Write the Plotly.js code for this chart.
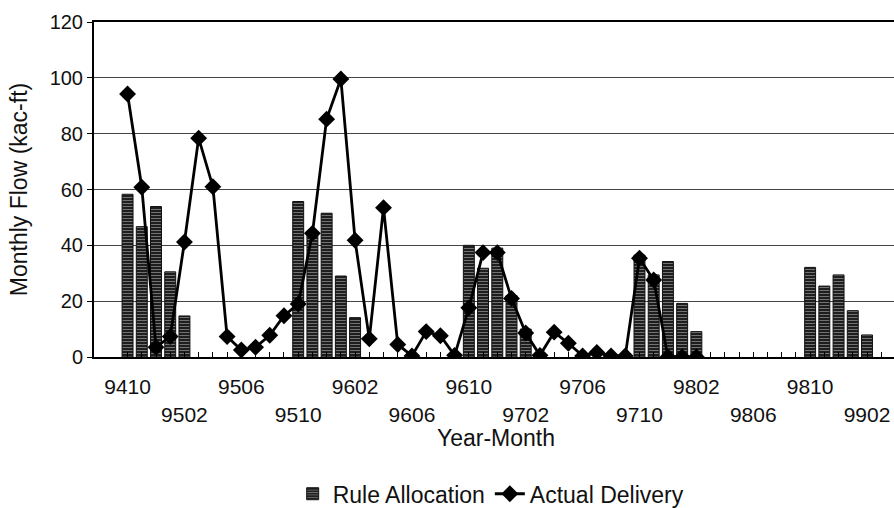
<!DOCTYPE html>
<html>
<head>
<meta charset="utf-8">
<script src="https://cdn.plot.ly/plotly-3.0.1.min.js"></script>
<style>
html, body { margin:0; padding:0; overflow:hidden; background:#fff; }
#chart { width:900px; height:508px; }
</style>
</head>
<body>
<div id="chart"></div>
<script>
// Year-Month categories (YYMM)
var categories = ['9410','9411','9412','9501','9502','9503','9504','9505','9506','9507','9508','9509',
  '9510','9511','9512','9601','9602','9603','9604','9605','9606','9607','9608','9609',
  '9610','9611','9612','9701','9702','9703','9704','9705','9706','9707','9708','9709',
  '9710','9711','9712','9801','9802','9803','9804','9805','9806','9807','9808','9809',
  '9810','9811','9812','9901','9902','9903'];

// Rule Allocation (kac-ft), bars
var ruleAllocation = [58.3,46.7,53.9,30.5,14.7,null,null,null,null,null,null,null,
  55.7,44.0,51.5,29.0,14.1,null,null,null,null,null,null,null,
  40.0,31.8,39.0,22.0,10.0,null,null,null,null,null,null,null,
  36.5,29.4,34.2,19.2,9.1,null,null,null,null,null,null,null,
  32.1,25.4,29.4,16.6,7.9,null];

// Actual Delivery (kac-ft), line with diamonds
var actualDelivery = [94.2,60.8,3.5,7.3,41.2,78.4,61.0,7.3,2.5,3.5,7.8,14.8,
  19.0,44.3,85.2,99.6,41.8,6.5,53.5,4.5,0.4,9.1,7.6,0.6,
  17.6,37.4,37.4,21.0,8.6,0.6,8.9,4.9,0.4,1.6,0.4,0.4,
  35.4,27.6,0,0,0,null,null,null,null,null,null,null,
  null,null,null,null,null,null];

// Labelled ticks: upper row and lower row
var tickLabelsUpper = ['9410','9506','9602','9610','9706','9802','9810'];
var tickLabelsLower = ['9502','9510','9606','9702','9710','9806','9902'];

var tickText = categories.map(function(c){
  if (tickLabelsUpper.indexOf(c) >= 0) return c;
  if (tickLabelsLower.indexOf(c) >= 0) return ' <br>' + c;
  return '';
});

var traces = [
  {
    type:'bar', name:'Rule Allocation', x:categories, y:ruleAllocation,
    marker:{color:'#1e1e1e', line:{color:'#111', width:1},
      pattern:{shape:'-', fgcolor:'#a0a0a0', bgcolor:'#1e1e1e', size:3, solidity:0.22}}
  },
  {
    type:'scatter', mode:'lines+markers', name:'Actual Delivery', x:categories, y:actualDelivery,
    line:{color:'#000', width:2.8}, marker:{symbol:'diamond', size:13, color:'#000'},
    connectgaps:false
  }
];

var layout = {
  width:900, height:508,
  margin:{l:94, r:2, t:22, b:151},
  paper_bgcolor:'#fff', plot_bgcolor:'#fff',
  font:{family:'"Liberation Sans", Arial, sans-serif', color:'#111'},
  bargap:0.23,
  showlegend:true,
  xaxis:{
    type:'category', range:[-2.36, 54.18], tickmode:'array', tickvals:categories, ticktext:tickText,
    ticks:'inside', ticklen:5, tickcolor:'#000', tickwidth:1, tickangle:0, ticklabelstandoff:10,
    showline:true, linewidth:2, linecolor:'#000', mirror:true, showgrid:false,
    tickfont:{size:21}, automargin:false,
    title:{text:'Year-Month', font:{size:23}, standoff:5}
  },
  yaxis:{
    range:[0,120], dtick:20, ticks:'outside', ticklen:5, tickcolor:'#000',
    showline:true, linewidth:2, linecolor:'#000', mirror:true,
    showgrid:true, gridcolor:'#444', gridwidth:1.2, zeroline:false,
    tickfont:{size:20}, automargin:false,
    title:{text:'Monthly Flow (kac-ft)', font:{size:23}, standoff:16}
  },
  legend:{orientation:'h', x:0.494, xanchor:'center', yref:'container', y:0.028, yanchor:'middle',
    font:{size:23}, bgcolor:'rgba(0,0,0,0)'}
};

Plotly.newPlot('chart', traces, layout, {displayModeBar:false, staticPlot:true});
</script>
</body>
</html>
